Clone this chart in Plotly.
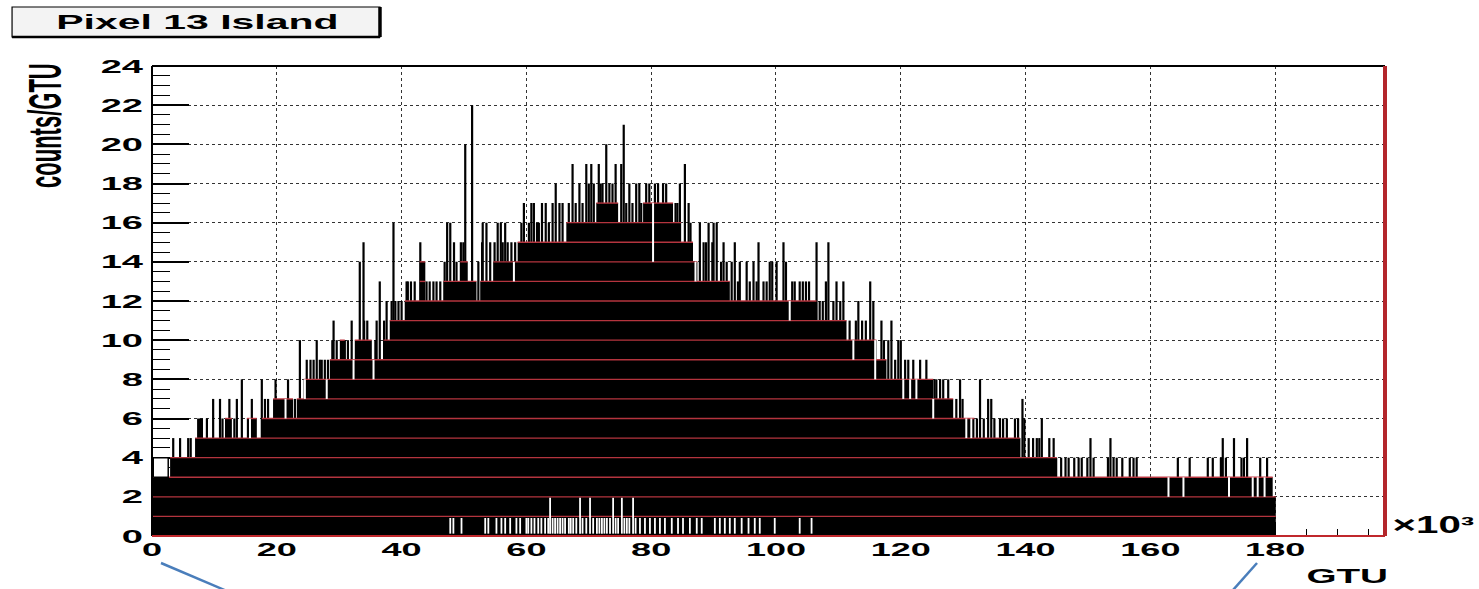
import bisect
import plotly.graph_objects as go

# ---------------- data (x in units of 10^3 GTU, y in counts/GTU) ----------------
# solid part of the histogram: step starts and levels
env_x = [0.0, 2.9, 6.9, 11.7, 12.8, 15.2, 16.8, 17.6, 19.4, 22.6, 23.2, 24.3, 28.5, 30.1,
         30.9, 32.5, 35.2, 37.1, 38.1, 40.5, 42.9, 43.8, 46.7, 49.4, 50.6, 52.0, 52.6,
         54.7, 58.6, 66.4, 71.2, 74.7, 78.7, 83.5, 84.8, 86.7, 87.4, 92.6, 106.5, 111.3,
         116.1, 117.7, 125.2, 128.4, 131.8, 139.1, 145.0, 179.6]
env_level = [3, 4, 5, 6, 5, 6, 5, 6, 7, 6, 7, 8, 9, 10,
             9, 10, 9, 10, 11, 12, 14, 12, 13, 14, 13, 12, 13,
             14, 15, 16, 17, 16, 17, 16, 15, 14, 13, 12, 11, 10,
             9, 8, 7, 6, 5, 4, 3, 2]
env_end = 180.1

# single-bin spikes above the solid part
spike_x = [3.4, 4.5, 5.8, 6.2, 7.4, 7.7, 8.0, 8.8, 9.8, 10.9, 11.3, 12.4, 13.2, 13.6, 14.4,
           16.0, 16.4, 17.6, 18.1, 18.6, 19.8, 21.8, 22.9, 23.7, 24.8, 25.4, 25.9, 26.4,
           26.9, 27.2, 27.7, 28.2, 28.9, 29.1, 29.6, 30.9, 31.4, 32.0, 33.3, 33.9, 34.0,
           34.5, 35.0, 35.8, 36.0, 36.5, 37.2, 37.6, 38.4, 38.7, 39.0, 39.5, 40.0, 40.8,
           41.0, 41.5, 42.1, 43.0, 44.0, 44.5, 45.1, 45.6, 46.2, 46.9, 47.3, 47.8, 48.4,
           48.8, 49.5, 49.9, 50.2, 51.3, 52.3, 52.9, 53.0, 53.6, 54.2, 54.9, 55.4, 55.9,
           56.2, 56.6, 57.0, 57.6, 58.2, 59.2, 59.6, 60.4, 60.8, 61.2, 61.7, 62.0, 62.5,
           63.1, 63.6, 64.2, 64.7, 65.3, 65.8, 66.8, 67.4, 67.9, 68.5, 69.0, 69.6, 70.0,
           70.4, 70.8, 71.6, 71.9, 72.2, 72.8, 73.3, 73.8, 74.3, 75.2, 75.6, 76.0, 76.5,
           77.0, 77.6, 78.1, 78.4, 79.2, 79.7, 80.6, 81.1, 81.9, 82.4, 83.0, 83.9, 84.2,
           84.6, 85.4, 86.0, 86.3, 87.8, 88.4, 88.8, 89.2, 89.8, 90.0, 90.5, 91.2, 91.6,
           92.1, 92.9, 93.4, 93.9, 94.2, 95.3, 95.8, 96.4, 96.9, 97.2, 98.0, 98.5, 99.0,
           99.4, 100.1, 101.2, 101.6, 102.6, 103.0, 103.8, 104.3, 104.8, 105.3, 106.5,
           107.0, 107.5, 108.0, 108.4, 109.2, 109.7, 110.3, 110.8, 111.8, 112.8, 113.2,
           113.8, 114.4, 115.1, 115.6, 116.9, 117.3, 118.0, 118.5, 119.1, 119.6, 120.0,
           120.7, 121.2, 122.0, 122.8, 123.1, 123.6, 124.1, 124.6, 125.4, 125.7, 126.3,
           126.8, 127.2, 127.6, 128.0, 128.9, 129.5, 129.9, 131.0, 132.2, 132.7, 133.3,
           134.0, 134.5, 135.0, 135.9, 136.4, 137.0, 137.5, 138.3, 138.8, 139.0, 139.5,
           139.8, 140.5, 141.2, 141.8, 142.2, 142.6, 143.2, 143.8, 144.5, 144.9, 145.7,
           146.4, 146.9, 147.8, 148.5, 149.0, 149.9, 150.4, 150.9, 153.2, 153.6, 154.1,
           154.6, 155.5, 156.7, 157.3, 157.8, 164.4, 166.3, 169.2, 170.0, 171.3, 171.6,
           172.1, 173.4, 174.6, 175.0, 175.5, 177.6, 178.7]
spike_y = [5, 5, 5, 5, 6, 6, 6, 6, 7, 7, 6, 7, 6, 7, 8,
           7, 6, 8, 7, 7, 8, 8, 7, 10, 9, 9, 9, 10,
           9, 9, 9, 9, 10, 11, 10, 10, 10, 11, 14, 15, 11,
           11, 10, 10, 11, 13, 11, 12, 12, 16, 12, 12, 12, 13,
           13, 13, 13, 15, 13, 13, 13, 13, 13, 14, 16, 16, 15,
           14, 15, 15, 20, 22, 14, 15, 16, 16, 15, 15, 16, 16,
           15, 16, 15, 15, 15, 16, 17, 16, 17, 17, 16, 16, 17,
           17, 16, 17, 18, 17, 17, 17, 19, 17, 18, 17, 19, 18,
           19, 18, 19, 18, 18, 20, 18, 18, 19, 19, 21, 17, 18,
           17, 18, 18, 17, 18, 18, 18, 18, 18, 18, 17, 17, 17,
           18, 19, 17, 16, 16, 15, 15, 16, 15, 16, 16, 14, 15,
           14, 14, 15, 13, 14, 14, 13, 14, 13, 15, 13, 13, 14,
           14, 14, 15, 14, 13, 13, 13, 13, 13, 13, 15,
           12, 12, 13, 15, 12, 13, 12, 13, 11, 11, 12,
           11, 11, 13, 12, 11, 10, 10, 11, 9, 10, 10,
           9, 9, 9, 8, 9, 8, 9, 8, 8, 8, 8,
           8, 7, 8, 7, 7, 8, 7, 6, 6, 8, 6,
           7, 7, 6, 6, 6, 6, 5, 6, 6, 5, 7,
           6, 5, 5, 5, 5, 6, 4, 5, 5, 4, 4,
           4, 4, 4, 4, 4, 4, 5, 4, 4, 5, 4,
           4, 4, 4, 4, 4, 4, 4, 4, 4, 4, 5,
           4, 5, 4, 4, 5, 4, 4]

# single bins lower than the solid part (white notches), with their content
dip_x = [15.7, 21.4, 24.5, 28.0, 32.3, 35.5, 58.0, 80.3, 87.1, 102.2, 112.4, 115.9,
         120.4, 121.5, 122.5, 125.2, 130.5, 131.3, 162.9, 165.3, 172.6, 176.4, 177.2, 178.3]
dip_y = [5, 6, 7, 7, 8, 8, 13, 14, 13, 11, 9, 8,
         7, 7, 7, 6, 5, 5, 2, 2, 2, 2, 2, 2]

# empty bins near the bottom
gap_x = [47.8, 48.3, 49.6, 53.4, 53.9, 55.2, 56.0, 56.6, 57.4, 58.4, 59.0, 60.0, 60.3,
         60.8, 61.3, 61.9, 62.4, 63.0, 63.5, 64.2, 64.6, 65.0, 65.4, 65.8, 66.2, 66.8,
         67.1, 67.5, 68.0, 69.0, 69.6, 70.7, 71.3, 71.7, 72.1, 72.5, 72.9, 73.4, 74.3,
         74.7, 75.7, 76.1, 76.5, 77.5, 78.2, 79.0, 79.8, 80.6, 81.4, 82.2, 83.3, 84.3,
         85.1, 86.2, 87.3, 88.1, 90.2, 91.0, 91.8, 92.6, 93.4, 94.5, 95.6, 96.6, 97.4,
         99.8, 103.8, 105.7]
gap_low, gap_top = 0.12, 0.92
tall_gap_x = [63.8, 68.6, 70.2, 73.9, 75.3, 77.1]
tall_gap_top = 1.95

# first bin drawn as an open outline
open_bin = (0.2, 2.6, 3, 4)

x_range = [0, 197.6]
y_range = [0, 24]
x_ticks = list(range(0, 181, 20))
y_ticks = list(range(0, 25, 2))

# ---------------- build ----------------
bounds = env_x + [env_end]


def env_at(x):
    i = bisect.bisect_right(env_x, x) - 1
    return env_level[max(i, 0)]


fig = go.Figure()

# solid histogram body
fig.add_trace(go.Scatter(x=bounds, y=env_level + [env_level[-1]], mode="lines",
                         line=dict(shape="hv", width=0, color="black"),
                         fill="tozeroy", fillcolor="black", hoverinfo="skip"))

# spikes
sx, sy = [], []
for x, y in zip(spike_x, spike_y):
    sx += [x, x, None]
    sy += [0, y, None]
fig.add_trace(go.Scatter(x=sx, y=sy, mode="lines", line=dict(color="black", width=2.2),
                         hoverinfo="skip"))

# red level lines inside the body
rx, ry = [], []
for k in range(1, max(env_level) + 1):
    inside = False
    last = None
    for i, lev in enumerate(env_level):
        x0, x1 = bounds[i], bounds[i + 1]
        if lev >= k:
            if not inside:
                rx.append(x0)
                ry.append(k)
                inside = True
            last = x1
        elif inside:
            rx += [last, None]
            ry += [k, None]
            inside = False
    if inside:
        rx += [last, None]
        ry += [k, None]
fig.add_trace(go.Scatter(x=rx, y=ry, mode="lines",
                         line=dict(color="rgba(190,55,65,0.95)", width=1.4),
                         hoverinfo="skip"))

# white notches
dx, dy = [], []
for x, y in zip(dip_x, dip_y):
    top = env_at(x)
    if top > y:
        dx += [x, x, None]
        dy += [y, top, None]
fig.add_trace(go.Scatter(x=dx, y=dy, mode="lines", line=dict(color="white", width=2),
                         hoverinfo="skip"))

# empty bins at the bottom
gx, gy = [], []
for x in gap_x:
    gx += [x, x, None]
    gy += [gap_low, gap_top, None]
for x in tall_gap_x:
    gx += [x, x, None]
    gy += [gap_low, tall_gap_top, None]
fig.add_trace(go.Scatter(x=gx, y=gy, mode="lines", line=dict(color="white", width=1.8),
                         hoverinfo="skip"))

# open first bin
ox0, ox1, oy0, oy1 = open_bin
fig.add_trace(go.Scatter(x=[ox0, ox0, ox1, ox1, ox0], y=[oy0, oy1, oy1, oy0, oy0],
                         mode="lines", fill="toself", fillcolor="white",
                         line=dict(color="black", width=1.5), hoverinfo="skip"))

FONT = "Liberation Sans"
tickfont = dict(family=FONT, size=19, color="black", weight="bold")
GRID = "#333333"

fig.update_layout(
    width=1479, height=589, autosize=False,
    margin=dict(l=152, r=94, t=66, b=53),
    paper_bgcolor="white", plot_bgcolor="white",
    showlegend=False,
    xaxis=dict(range=x_range, tickmode="array", tickvals=x_ticks,
               ticks="inside", ticklen=14, tickwidth=1.5, tickcolor="black",
               minor=dict(dtick=5, tick0=0, ticks="inside", ticklen=7, tickcolor="black",
                          tickwidth=1, showgrid=False),
               showgrid=True, gridcolor=GRID, griddash="dot", gridwidth=1,
               showline=False, layer="below traces",
               zeroline=False, tickfont=tickfont, ticklabelstandoff=0),
    yaxis=dict(range=y_range, tickmode="array", tickvals=y_ticks,
               ticks="inside", ticklen=37, tickwidth=1.5, tickcolor="black",
               minor=dict(dtick=0.5, tick0=0, ticks="inside", ticklen=18, tickcolor="black",
                          tickwidth=1, showgrid=False),
               showgrid=True, gridcolor=GRID, griddash="dot", gridwidth=1,
               showline=False, layer="below traces",
               zeroline=False, tickfont=tickfont, ticklabelstandoff=8),
)

# frame: top and left black, bottom and right red
fig.add_shape(type="line", xref="paper", yref="paper", x0=0, x1=1, y0=1, y1=1,
              line=dict(color="black", width=2))
fig.add_shape(type="line", xref="paper", yref="paper", x0=0, x1=0, y0=0, y1=1,
              line=dict(color="black", width=2))
fig.add_shape(type="line", xref="paper", yref="paper", x0=0, x1=1, y0=0, y1=0,
              line=dict(color="#c0282c", width=2))
fig.add_shape(type="line", xref="paper", yref="paper", x0=1, x1=1, y0=0, y1=1,
              line=dict(color="#b3262b", width=4))

# title box with shadow
fig.add_shape(type="rect", xref="paper", yref="paper", x0=-0.1135, x1=0.1849,
              y0=1.0617, y1=1.1255, fillcolor="#f3f3f3", line=dict(color="black", width=1.2),
              layer="above")
fig.add_shape(type="line", xref="paper", yref="paper", x0=0.1849, x1=0.1849,
              y0=1.0617, y1=1.1255, line=dict(color="black", width=3.5))
fig.add_shape(type="line", xref="paper", yref="paper", x0=-0.1135, x1=0.1849,
              y0=1.0617, y1=1.0617, line=dict(color="black", width=2.5))

# blue pointer lines
BLUE = "#4a7ebb"
fig.add_shape(type="line", xref="paper", yref="paper", x0=0.0073, y0=-0.0574,
              x1=0.0590, y1=-0.1150, line=dict(color=BLUE, width=2.5))
fig.add_shape(type="line", xref="paper", yref="paper", x0=0.8962, y0=-0.0574,
              x1=0.8767, y1=-0.1150, line=dict(color=BLUE, width=2.5))

ann_font = dict(family=FONT, color="black", weight="bold")
fig.add_annotation(text="Pixel 13 Island", xref="paper", yref="paper", x=0.0365, y=1.094,
                   showarrow=False, xanchor="center", yanchor="middle",
                   font=dict(size=21, **ann_font))
fig.add_annotation(text="GTU", xref="paper", yref="paper", x=0.9692, y=-0.0851,
                   showarrow=False, xanchor="center", yanchor="middle",
                   font=dict(size=21, **ann_font))
fig.add_annotation(text="\u00d710\u00b3", xref="paper", yref="paper", x=1.0397, y=0.024,
                   showarrow=False, xanchor="center", yanchor="middle",
                   font=dict(size=23, **ann_font))
fig.add_annotation(text="counts/GTU", xref="paper", yref="paper", x=-0.086, y=0.8745,
                   showarrow=False, xanchor="center", yanchor="middle", textangle=-90,
                   font=dict(size=22, **ann_font))

post_js = """
(function(){
var gd = document.getElementById('{plot_id}');
var F = {'Pixel 13 Island':1.95, 'GTU':1.84, '\u00d710\u00b3':1.75};
function run(){
  var ts = gd.querySelectorAll('text');
  for (var i = 0; i < ts.length; i++){
    var t = ts[i];
    if (t.getAttribute('data-stretched')) continue;
    var txt = t.textContent, s = null;
    if (txt === 'counts/GTU') {
      var bb = t.getBBox();
      if (!bb.height) continue;
      var cy = bb.y + bb.height / 2;
      var tr = t.getAttribute('transform') || '';
      t.setAttribute('transform', tr + ' translate(0,' + cy + ') scale(1,2.1) translate(0,' + (-cy) + ')');
      t.setAttribute('data-stretched', '1');
      continue;
    }
    if (Object.prototype.hasOwnProperty.call(F, txt)) s = F[txt];
    else if (t.closest('.ytick')) s = 2.0;
    else if (t.closest('.xtick')) s = 1.9;
    if (!s) continue;
    var w = t.getComputedTextLength();
    if (!w) continue;
    t.setAttribute('textLength', (w * s).toFixed(1));
    t.setAttribute('lengthAdjust', 'spacingAndGlyphs');
    t.setAttribute('data-stretched', '1');
  }
}
run(); setTimeout(run, 30); setTimeout(run, 300);
})();
"""

fig.write_html("out.html", post_script=post_js)
